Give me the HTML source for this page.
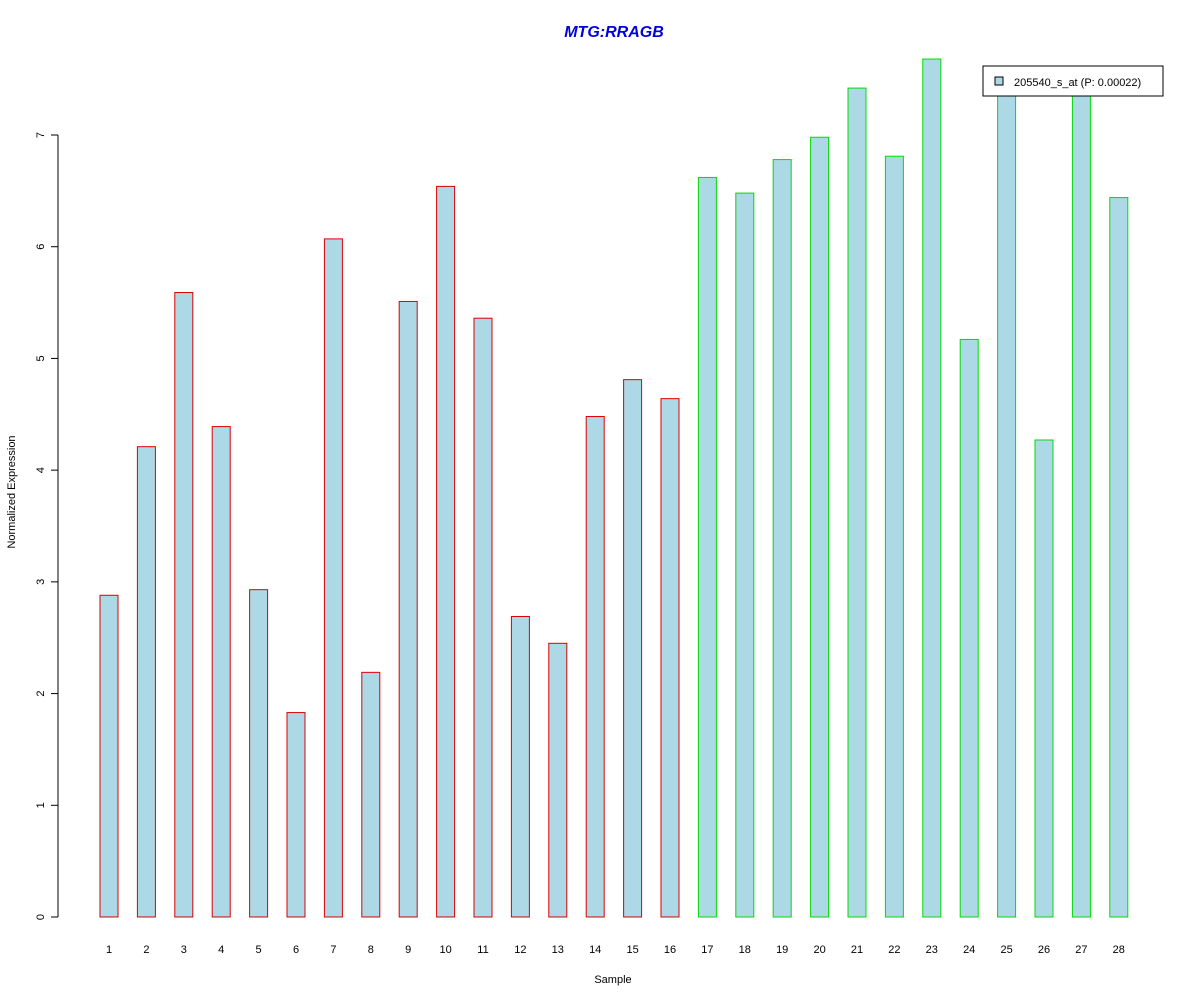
<!DOCTYPE html>
<html><head><meta charset="utf-8"><style>
html,body{margin:0;padding:0;background:#fff;}
svg text{font-family:"Liberation Sans",Arial,sans-serif;}
</style></head><body>
<svg id="chart" width="1200" height="1000" xmlns="http://www.w3.org/2000/svg">
<rect width="1200" height="1000" fill="#fff"/>
<text x="614" y="37" text-anchor="middle" font-size="16" font-weight="bold" font-style="italic" fill="#0000dd">MTG:RRAGB</text>
<g id="bars"></g>
<g id="yaxis"></g>
<g id="xaxis"></g>
<text x="613" y="983" text-anchor="middle" font-size="11">Sample</text>
<text transform="translate(15,492) rotate(-90)" text-anchor="middle" font-size="11">Normalized Expression</text>
<g>
<rect x="983" y="66" width="180" height="30" fill="#fff" stroke="#000"/>
<rect x="995" y="77" width="8" height="8" fill="#add8e6" stroke="#000"/>
<text x="1014" y="86" font-size="11">205540_s_at (P: 0.00022)</text>
</g>
</svg>
<script>
const samples = [1,2,3,4,5,6,7,8,9,10,11,12,13,14,15,16,17,18,19,20,21,22,23,24,25,26,27,28];
const values = [2.88,4.21,5.59,4.39,2.93,1.83,6.07,2.19,5.51,6.54,5.36,2.69,2.45,4.48,4.81,4.64,6.62,6.48,6.78,6.98,7.42,6.81,7.68,5.17,7.4,4.27,7.4,6.44];
const groups = ["c","c","c","c","c","c","c","c","c","c","c","c","c","c","c","c","d","d","d","d","d","d","d","d","d","d","d","d"];
const yTicks = [0,1,2,3,4,5,6,7];
const NS="http://www.w3.org/2000/svg";
const y0=917, yUnit=(917-135)/7;
const yScale=v=>y0-v*yUnit;
const xScale=i=>109+i*37.4;
const bw=18;
function mk(tag,attrs,parent){const e=document.createElementNS(NS,tag);for(const k in attrs)e.setAttribute(k,attrs[k]);parent.appendChild(e);return e;}
const bars=document.getElementById('bars');
values.forEach((v,i)=>{
  const r=mk('rect',{x:xScale(i)-bw/2,y:yScale(v),width:bw,height:y0-yScale(v),fill:'#add8e6',stroke:groups[i]==='c'?'#dd0000':'#00dd00'},bars);
  
  
});
const ya=document.getElementById('yaxis');
mk('line',{x1:58,x2:58,y1:yScale(yTicks[0]),y2:yScale(yTicks[yTicks.length-1]),stroke:'#000'},ya);
yTicks.forEach(t=>{
  const y=yScale(t);
  mk('line',{x1:51,x2:58,y1:y,y2:y,stroke:'#000'},ya);
  const tx=mk('text',{transform:`translate(44,${y}) rotate(-90)`,'text-anchor':'middle','font-size':11},ya);
  tx.textContent=t;
  
  
});
const xa=document.getElementById('xaxis');
samples.forEach((s,i)=>{
  const tx=mk('text',{x:xScale(i),y:953,'text-anchor':'middle','font-size':11},xa);
  tx.textContent=s;
  
  
});
</script>
</body></html>
